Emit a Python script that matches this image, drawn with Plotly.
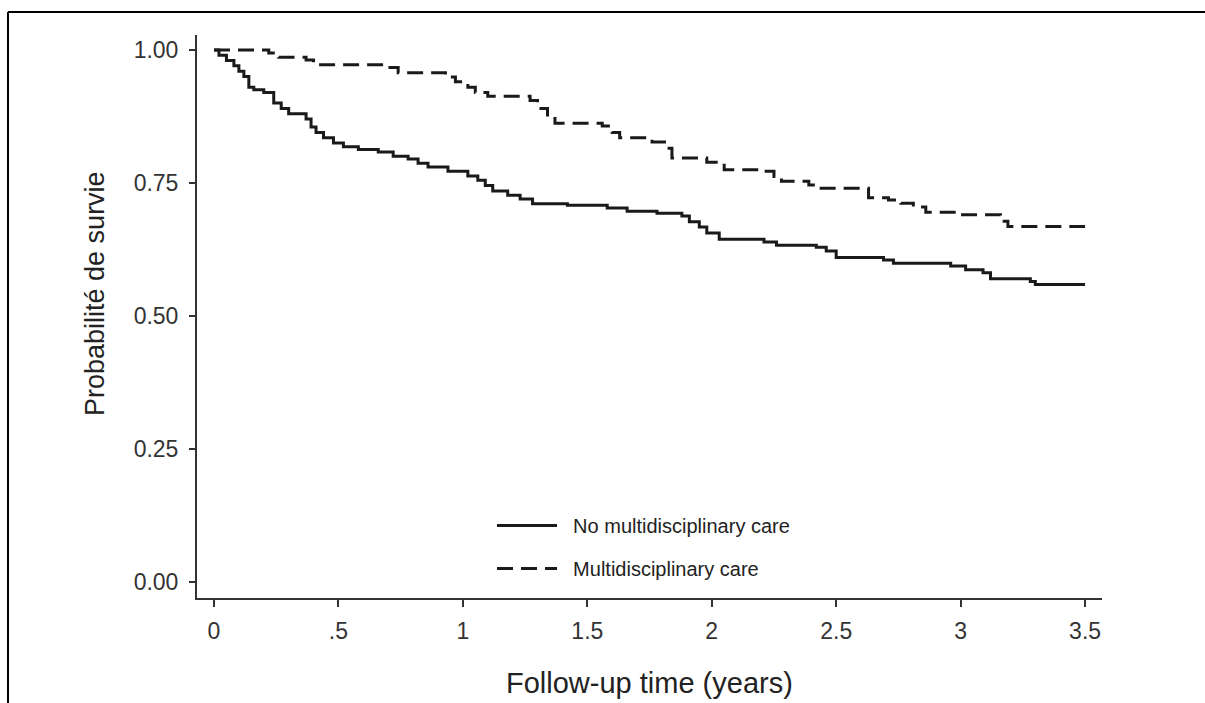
import plotly.graph_objects as go

# Kaplan-Meier step data
t_no_mdc = [0, 0.02, 0.05, 0.08, 0.10, 0.12, 0.14, 0.16, 0.20, 0.24, 0.27, 0.30,
            0.37, 0.39, 0.41, 0.44, 0.48, 0.52, 0.58, 0.66, 0.72, 0.78, 0.82, 0.86,
            0.94, 1.02, 1.06, 1.09, 1.12, 1.18, 1.23, 1.28, 1.42, 1.58, 1.66, 1.78,
            1.88, 1.91, 1.95, 1.98, 2.03, 2.21, 2.26, 2.42, 2.46, 2.50, 2.69, 2.73,
            2.96, 3.02, 3.09, 3.12, 3.28, 3.30, 3.50]
s_no_mdc = [1.0, 0.99, 0.98, 0.97, 0.96, 0.95, 0.93, 0.925, 0.92, 0.90, 0.89, 0.88,
            0.87, 0.855, 0.845, 0.835, 0.825, 0.818, 0.813, 0.808, 0.80, 0.795, 0.787, 0.78,
            0.772, 0.763, 0.755, 0.745, 0.735, 0.727, 0.72, 0.711, 0.708, 0.703, 0.697, 0.693,
            0.688, 0.677, 0.667, 0.656, 0.644, 0.639, 0.633, 0.629, 0.622, 0.61, 0.605, 0.599,
            0.594, 0.587, 0.581, 0.570, 0.565, 0.559, 0.559]

t_mdc = [0, 0.22, 0.26, 0.37, 0.40, 0.69, 0.74, 0.93, 0.97, 1.02, 1.05, 1.10,
         1.27, 1.30, 1.34, 1.37, 1.56, 1.60, 1.63, 1.76, 1.81, 1.84, 1.98, 2.05,
         2.20, 2.25, 2.28, 2.39, 2.43, 2.63, 2.71, 2.76, 2.81, 2.86, 3.00, 3.16,
         3.19, 3.50]
s_mdc = [1.0, 0.994, 0.986, 0.981, 0.972, 0.967, 0.957, 0.949, 0.940, 0.93, 0.92, 0.913,
         0.905, 0.89, 0.875, 0.862, 0.857, 0.845, 0.835, 0.827, 0.815, 0.797, 0.789, 0.775,
         0.772, 0.762, 0.753, 0.746, 0.740, 0.722, 0.718, 0.712, 0.705, 0.695, 0.690, 0.678,
         0.668, 0.668]

x_tickvals = [0, 0.5, 1, 1.5, 2, 2.5, 3, 3.5]
x_ticktext = ["0", ".5", "1", "1.5", "2", "2.5", "3", "3.5"]
y_tickvals = [0, 0.25, 0.5, 0.75, 1.0]
y_ticktext = ["0.00", "0.25", "0.50", "0.75", "1.00"]

FONT = "Liberation Sans, Arial, sans-serif"
INK = "#1a1a1a"
PAD = "\u00a0\u00a0"

fig = go.Figure()
fig.add_trace(go.Scatter(x=t_no_mdc, y=s_no_mdc, mode="lines", line_shape="hv",
                         name=PAD + "No multidisciplinary care", legendgroup="a",
                         line=dict(color=INK, width=3)))
fig.add_trace(go.Scatter(x=t_mdc, y=s_mdc, mode="lines", line_shape="hv",
                         name=PAD + "Multidisciplinary care", legendgroup="b",
                         line=dict(color=INK, width=3, dash="16px,8px")))

L, R, T, B = 197, 103, 35, 105
W, H = 1205, 703
pw, ph = W - L - R, H - T - B

def px_x(p):
    return (p - L) / pw

def px_y(p):
    return (H - B - p) / ph

fig.update_layout(
    width=W, height=H,
    margin=dict(l=L, r=R, t=T, b=B),
    paper_bgcolor="white", plot_bgcolor="white",
    font=dict(family=FONT, color="#333333"),
    showlegend=True,
    legend=dict(x=px_x(492), y=px_y(506), xanchor="left", yanchor="top",
                bgcolor="rgba(0,0,0,0)", borderwidth=0,
                font=dict(family=FONT, size=20, color="#222222"),
                itemwidth=60, tracegroupgap=14, traceorder="grouped"),
    xaxis=dict(range=[-0.0683, 3.568], tickvals=x_tickvals, ticktext=x_ticktext,
               showgrid=False, zeroline=False, showline=True, linecolor="#333333",
               linewidth=2, ticks="outside", ticklen=7, tickwidth=2, tickcolor="#333333",
               tickfont=dict(size=23, color="#333333"), ticklabelstandoff=4),
    yaxis=dict(range=[-0.030, 1.028], tickvals=y_tickvals, ticktext=y_ticktext,
               showgrid=False, zeroline=False, showline=True, linecolor="#333333",
               linewidth=2, ticks="outside", ticklen=6, tickwidth=2, tickcolor="#333333",
               tickfont=dict(size=23, color="#333333"), ticklabelstandoff=6),
    annotations=[
        dict(text="Follow-up time (years)", xref="paper", yref="paper",
             x=0.5, y=px_y(683), xanchor="center", yanchor="middle",
             showarrow=False, font=dict(family=FONT, size=29, color="#222222")),
        dict(text="Probabilité de survie", xref="paper", yref="paper",
             x=px_x(95), y=px_y(294), xanchor="center", yanchor="middle",
             textangle=-90, showarrow=False,
             font=dict(family=FONT, size=27, color="#222222")),
    ],
    shapes=[
        dict(type="line", xref="paper", yref="paper",
             x0=px_x(8), x1=px_x(1205), y0=px_y(12), y1=px_y(12),
             line=dict(color="black", width=2)),
        dict(type="line", xref="paper", yref="paper",
             x0=px_x(8), x1=px_x(8), y0=px_y(12), y1=px_y(703),
             line=dict(color="black", width=2)),
    ],
)

fig.write_html("out.html", config={"displayModeBar": False})
